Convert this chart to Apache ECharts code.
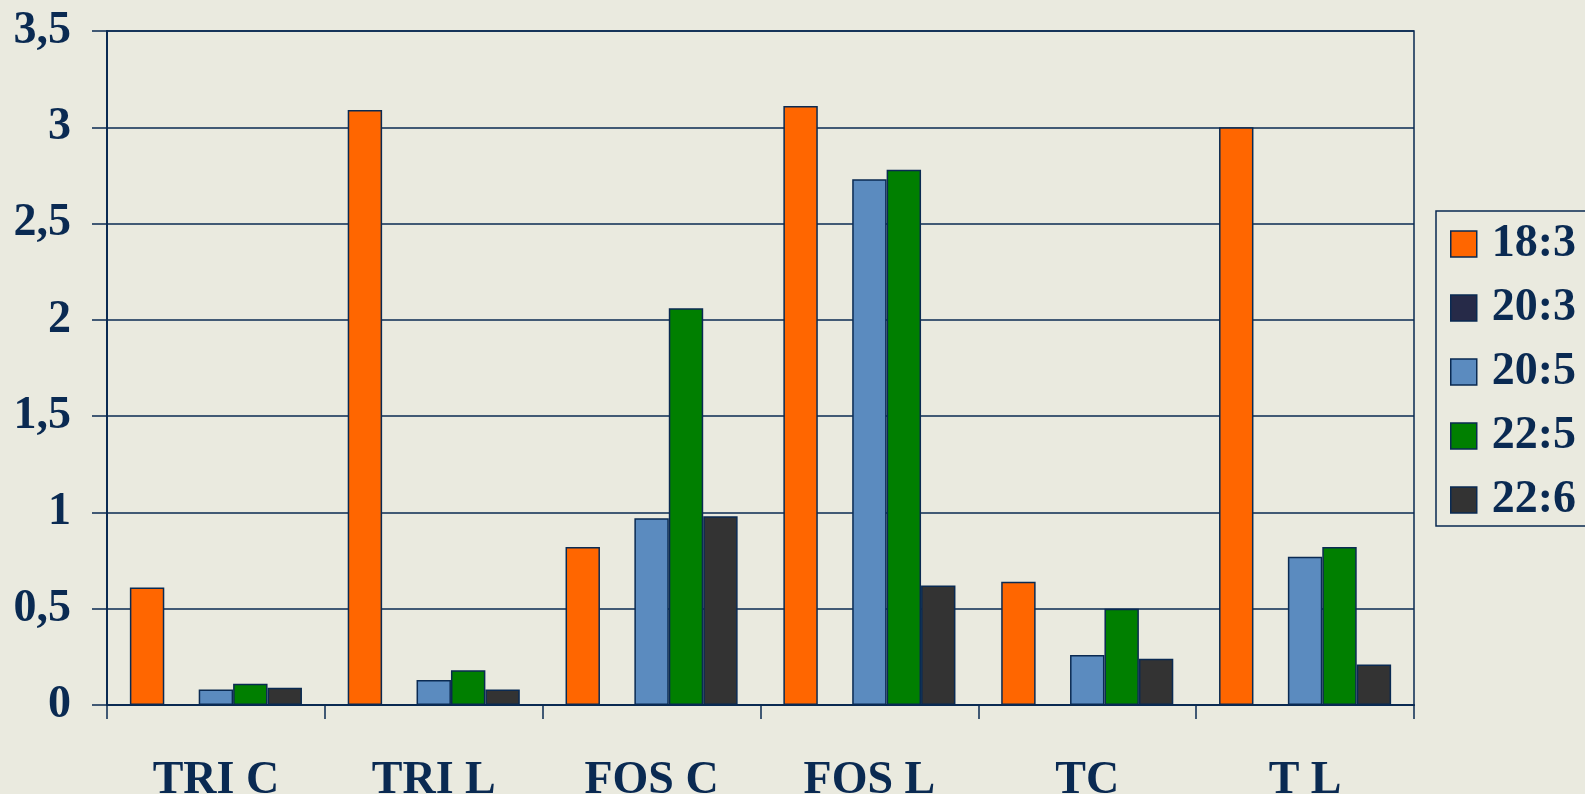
<!DOCTYPE html>
<html>
<head>
<meta charset="utf-8">
<script src="https://cdn.jsdelivr.net/npm/echarts@6/dist/echarts.min.js"></script>
<style>
  html, body { margin: 0; padding: 0; background: #eaeadf; }
  #chart { width: 1585px; height: 794px; }
</style>
</head>
<body>
<div id="chart"></div>
<script>
  const categories = ['TRI C', 'TRI L', 'FOS C', 'FOS L', 'TC', 'T L'];
  const seriesNames = ['18:3', '20:3', '20:5', '22:5', '22:6'];
  const values183 = [0.61, 3.09, 0.82, 3.11, 0.64, 3.0];
  const values203 = [0, 0, 0, 0, 0, 0];
  const values205 = [0.08, 0.13, 0.97, 2.73, 0.26, 0.77];
  const values225 = [0.11, 0.18, 2.06, 2.78, 0.5, 0.82];
  const values226 = [0.09, 0.08, 0.98, 0.62, 0.24, 0.21];
  const yTicks = [0, 0.5, 1, 1.5, 2, 2.5, 3, 3.5];

  const NAVY = '#0a2a52';
  const FONT = '"Liberation Serif", "Times New Roman", serif';
  const colors = ['#ff6600', '#262a48', '#5b8bbf', '#007f00', '#333333'];
  const allValues = [values183, values203, values205, values225, values226];

  const chart = echarts.init(document.getElementById('chart'), null, { renderer: 'canvas' });

  chart.setOption({
    backgroundColor: '#eaeadf',
    animation: false,
    grid: {
      left: 107,
      right: 171,
      top: 31,
      bottom: 89,
      outerBoundsMode: 'none',
      containLabel: false,
      show: true,
      borderColor: NAVY,
      borderWidth: 1.5,
      backgroundColor: 'transparent',
    },
    legend: {
      orient: 'vertical',
      left: 1436,
      top: 211,
      padding: [10, 30, 3, 14],
      borderColor: NAVY,
      borderWidth: 1.5,
      itemWidth: 26,
      itemHeight: 26,
      itemGap: 18,
      icon: 'rect',
      itemStyle: { borderColor: NAVY, borderWidth: 1.5 },
      textStyle: {
        fontFamily: FONT,
        fontWeight: 'bold',
        fontSize: 46,
        color: NAVY,
        padding: [0, 0, 0, 10],
      },
      data: seriesNames,
    },
    xAxis: {
      type: 'category',
      data: categories,
      axisLine: { lineStyle: { color: NAVY, width: 2 } },
      axisTick: { show: true, length: 14, lineStyle: { color: NAVY, width: 1.5 } },
      axisLabel: {
        margin: 53,
        fontFamily: FONT,
        fontWeight: 'bold',
        fontSize: 46,
        color: NAVY,
      },
    },
    yAxis: {
      type: 'value',
      min: yTicks[0],
      max: yTicks[yTicks.length - 1],
      interval: 0.5,
      axisLine: { show: true, lineStyle: { color: NAVY, width: 2 } },
      axisTick: { show: true, length: 15, lineStyle: { color: NAVY, width: 1.5 } },
      splitLine: { lineStyle: { color: NAVY, width: 1.5 } },
      axisLabel: {
        margin: 36,
        fontFamily: FONT,
        fontWeight: 'bold',
        fontSize: 46,
        color: NAVY,
        formatter: (v) => String(v).replace('.', ','),
      },
    },
    series: seriesNames.map((name, i) => ({
      name,
      type: 'bar',
      data: allValues[i],
      barGap: '0%',
      barCategoryGap: '21%',
      itemStyle: { color: colors[i], borderColor: NAVY, borderWidth: 1.5 },
    })),
  });
</script>
</body>
</html>
